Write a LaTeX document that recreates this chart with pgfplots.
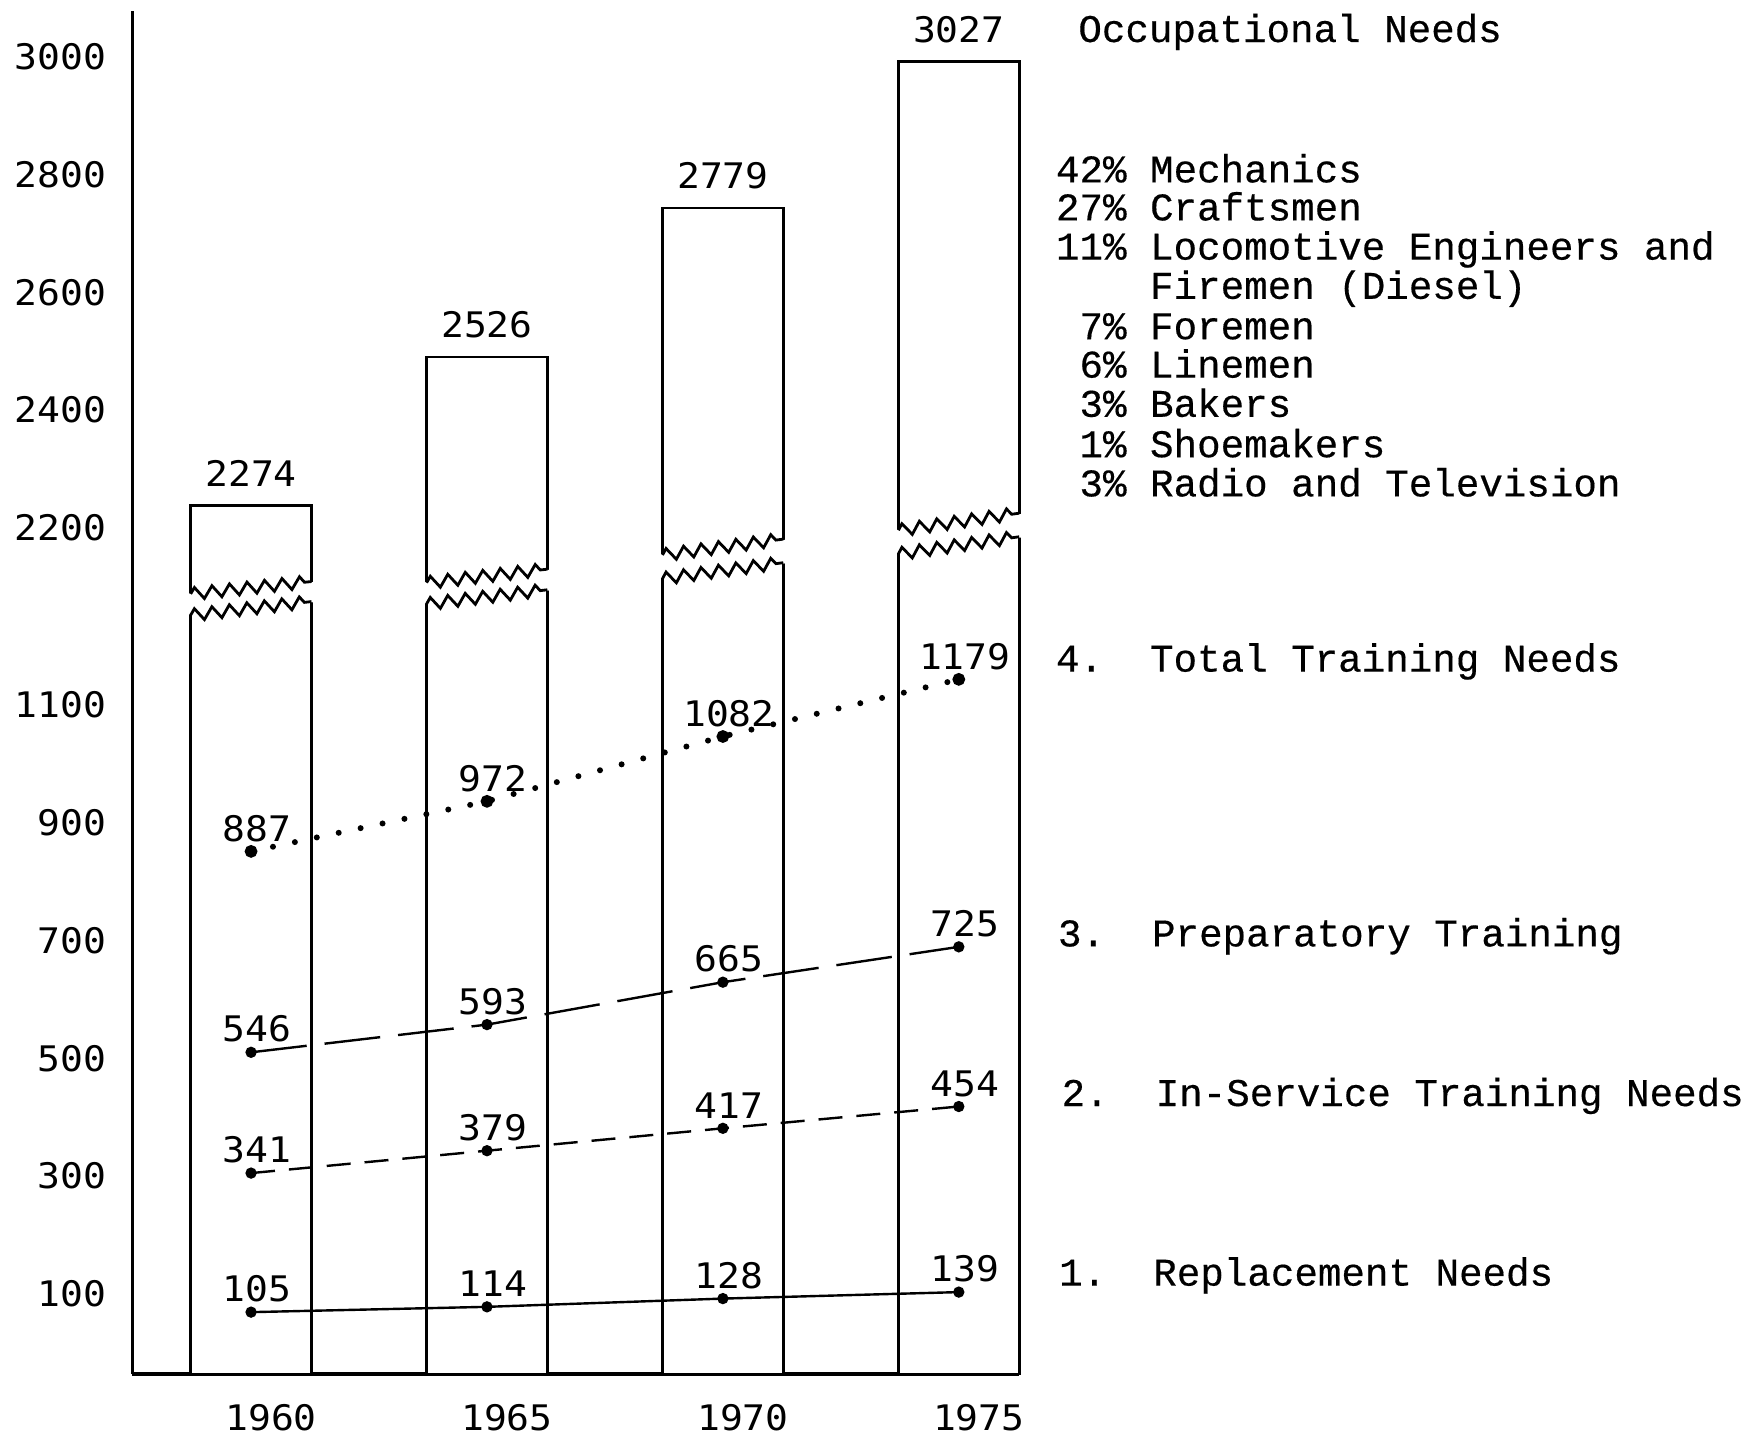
\documentclass[border=0pt]{standalone}
\usepackage{fontspec}
\setmainfont{Liberation Mono}[FakeBold=0.4]
\newfontfamily\numfont{DejaVu Sans Mono}[FakeStretch=1.08]
\usepackage{pgfplots}
\pgfplotsset{compat=1.18}
\usetikzlibrary{decorations.pathmorphing}
\newcommand\nf{\numfont\fontsize{8.8}{10}\selectfont}
\newcommand\tf{\fontsize{9.8}{11}\selectfont}
% break marks: xl, xr, upper-left, upper-right, lower-left, lower-right, fill-xl, fill-xr
\newcommand\brk[8]{%
  \fill[white] (axis cs:#7,#5) -- (axis cs:#8,#6) -- (axis cs:#8,#4) -- (axis cs:#7,#3) -- cycle;
  \draw[line width=0.7pt, line join=miter, decorate, decoration={zigzag, segment length=4.4pt, amplitude=1.5pt}] (axis cs:#1,#3) -- (axis cs:#2,#4);
  \draw[line width=0.7pt, line join=miter, decorate, decoration={zigzag, segment length=4.4pt, amplitude=1.5pt}] (axis cs:#1,#5) -- (axis cs:#2,#6);
}
\frenchspacing
\begin{document}
\begin{tikzpicture}
\path[use as bounding box] (0,0) rectangle (440pt,360pt);
\begin{axis}[
  at={(33.1pt,16.5pt)}, anchor=south west,
  scale only axis, width=221.7pt, height=340.7pt,
  xmin=1957.485, xmax=1976.28, ymin=0, ymax=2313,
  axis x line=bottom, axis y line=left,
  axis line style={-, line width=0.8pt},
  clip=false,
  xtick={1960,1965,1970,1975}, xticklabels={1960,1965,1970,1975},
  ytick={100,300,500,700,900,1100,1400,1600,1800,2000,2200},
  yticklabels={100,300,500,700,900,1100,2200,2400,2600,2800,3000},
  major tick length=0pt,
  tick label style={font=\nf},
  xticklabel style={anchor=north, inner sep=0pt, yshift=-7.5pt, xshift=5pt},
  yticklabel style={anchor=east, inner sep=0pt, xshift=-6.4pt, yshift=5.3pt},
  /pgf/number format/assume math mode=true,
  lbl/.style={point meta=explicit symbolic, nodes near coords,
    every node near coord/.append style={font=\nf, anchor=south, inner sep=0pt, xshift=1.5pt, yshift=2.2pt}},
]
% Occupational needs (axis is broken: values above the break are drawn 800 lower)
\addplot[ybar, bar width=2.563, draw=black, fill=white, line width=0.7pt,
  y filter/.expression={y-800},
  point meta=explicit symbolic, nodes near coords,
  every node near coord/.append style={font=\nf, anchor=south, inner sep=0pt, yshift=4.3pt}]
  coordinates {(1960,2274)[2274] (1965,2526)[2526] (1970,2779)[2779] (1975,3027)[3027]};
\brk{1958.72}{1961.28}{1324}{1345}{1288}{1311}{1958.55}{1961.45}
\brk{1963.72}{1966.28}{1343}{1366}{1307}{1331}{1963.55}{1966.45}
\brk{1968.72}{1971.28}{1390}{1417}{1350}{1377}{1968.55}{1971.45}
\brk{1973.72}{1976.28}{1432}{1461}{1392}{1421}{1973.55}{1976.45}
% 1. Replacement Needs
\addplot[black, line width=0.6pt, mark=*, mark size=1.1pt, lbl]
  coordinates {(1960,105)[105] (1965,114)[114] (1970,128)[128] (1975,139)[139]};
% 2. In-Service Training Needs
\addplot[black, line width=0.6pt, dash pattern=on 6pt off 3.5pt, mark=*, mark size=1.1pt, mark options={solid}, lbl]
  coordinates {(1960,341)[341] (1965,379)[379] (1970,417)[417] (1975,454)[454]};
% 3. Preparatory Training
\addplot[black, line width=0.6pt, dash pattern=on 14pt off 4.5pt, mark=*, mark size=1.1pt, mark options={solid}, lbl]
  coordinates {(1960,546)[546] (1965,593)[593] (1970,665)[665] (1975,725)[725]};
% 4. Total Training Needs
\addplot[black, line width=1.5pt, line cap=round, dash pattern=on 0pt off 5.6pt, mark=*, mark size=1.4pt, mark options={solid, line width=0.4pt}, lbl]
  coordinates {(1960,887)[887] (1965,972)[972] (1970,1082)[1082] (1975,1179)[1179]};
\end{axis}
\begin{scope}[every node/.style={anchor=base west, inner sep=0pt, font=\tf}]
\node at (269.4pt,349.5pt) {Occupational Needs};
\node at (263.8pt,314.4pt) {42\% Mechanics};
\node at (263.8pt,304.9pt) {27\% Craftsmen};
\node at (263.8pt,295.1pt) {11\% Locomotive Engineers and};
\node at (263.8pt,285.3pt) {\hphantom{11\%} Firemen (Diesel)};
\node at (263.8pt,275.2pt) {\hphantom{1}7\% Foremen};
\node at (263.8pt,265.6pt) {\hphantom{1}6\% Linemen};
\node at (263.8pt,255.8pt) {\hphantom{1}3\% Bakers};
\node at (263.8pt,245.7pt) {\hphantom{1}1\% Shoemakers};
\node at (263.8pt,235.9pt) {\hphantom{1}3\% Radio and Television};
\node at (263.8pt,192.1pt) {4.\hphantom{00}Total Training Needs};
\node at (264.3pt,123.4pt) {3.\hphantom{00}Preparatory Training};
\node at (265.2pt,83.5pt) {2.\hphantom{00}In-Service Training Needs};
\node at (264.6pt,38.6pt) {1.\hphantom{00}Replacement Needs};
\end{scope}
\end{tikzpicture}
\end{document}
